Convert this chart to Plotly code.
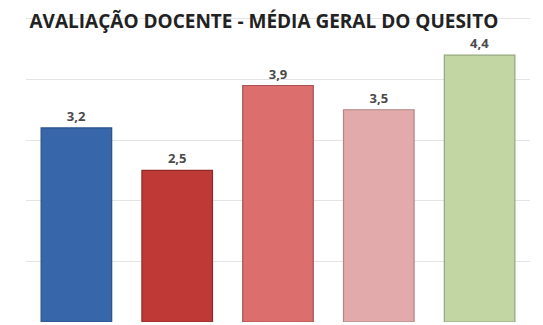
import plotly.graph_objects as go

# Average score per item
categories = ["Q1", "Q2", "Q3", "Q4", "Q5"]
scores = [3.2, 2.5, 3.9, 3.5, 4.4]
bar_colors = ["#3766aa", "#bf3a36", "#dc6e6e", "#e2aaaa", "#c2d6a3"]
edge_colors = ["#2a5088", "#8e2a28", "#a85252", "#b08585", "#94a67c"]

fig = go.Figure(
    go.Bar(
        x=categories,
        y=scores,
        marker=dict(color=bar_colors, line=dict(color=edge_colors, width=1.2)),
        width=0.7,
        texttemplate="<b>%{y:.1f}</b>",
        textposition="outside",
        textfont=dict(family="Open Sans", size=13, color="#4a4a4a"),
        cliponaxis=False,
    )
)

fig.update_layout(
    width=543,
    height=325,
    margin=dict(l=26, r=13, t=0, b=3),
    paper_bgcolor="white",
    plot_bgcolor="white",
    separators=",.",
    showlegend=False,
    title=dict(
        text="<b>AVALIAÇÃO DOCENTE - MÉDIA GERAL DO QUESITO</b>",
        x=0.486,
        xanchor="center",
        y=0.935,
        yanchor="middle",
        font=dict(family="Open Sans", size=19, color="#222222"),
    ),
    xaxis=dict(
        showticklabels=False,
        showgrid=False,
        zeroline=False,
        showline=False,
        ticks="",
    ),
    yaxis=dict(
        range=[0, 5.31],
        dtick=1,
        showticklabels=False,
        showgrid=True,
        gridcolor="#e4e4e4",
        gridwidth=1,
        zeroline=False,
        showline=False,
        ticks="",
    ),
)

fig.write_html("out.html")
